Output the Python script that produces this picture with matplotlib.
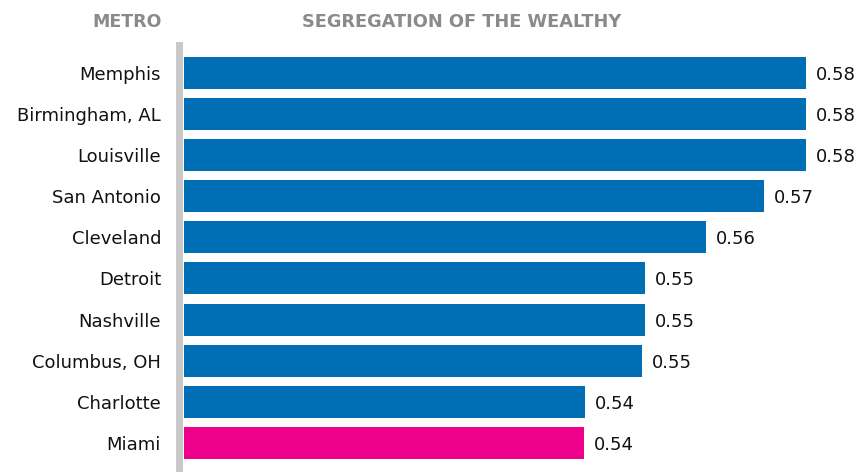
import matplotlib.pyplot as plt
import matplotlib.transforms as mtransforms

metros = ["Memphis", "Birmingham, AL", "Louisville", "San Antonio", "Cleveland",
          "Detroit", "Nashville", "Columbus, OH", "Charlotte", "Miami"]
values = [0.580, 0.580, 0.580, 0.5725, 0.562, 0.551, 0.551, 0.5505, 0.5403, 0.540]
labels = ["0.58", "0.58", "0.58", "0.57", "0.56", "0.55", "0.55", "0.55", "0.54", "0.54"]
highlight = "Miami"

plt.rcParams['font.family'] = ['DejaVu Sans']

W, H = 860, 472
fig = plt.figure(figsize=(W / 100, H / 100), dpi=100)
# axes in pixel coords: left 184, right 860, top 45, bottom 472
ax = fig.add_axes([184 / W, 0, 676 / W, (472 - 45) / H])

x0 = 0.468
colors = ["#ec008c" if m == highlight else "#006eb5" for m in metros]
ax.barh(range(len(metros)), [v - x0 for v in values], left=x0, height=0.78,
        color=colors)
ax.set_xlim(x0, x0 + 676 / 5550)
ax.set_ylim(9.71, -0.68)

ax.set_yticks(range(len(metros)))
ax.set_yticklabels(metros)
ax.tick_params(axis="y", length=0, pad=13, labelsize=13, labelcolor="#111111")
ax.set_xticks([])
for s in ["top", "right", "bottom"]:
    ax.spines[s].set_visible(False)
ax.spines["left"].set_color("#c8c8c8")
ax.spines["left"].set_linewidth(5)
ax.spines["left"].set_position(("outward", 3.5))

off = mtransforms.offset_copy(ax.transData, fig=fig, x=10, y=-2, units="dots")
for i, (v, lab) in enumerate(zip(values, labels)):
    ax.text(v, i, lab, transform=off, fontsize=13, color="#111111",
            ha="left", va="center")

fig.text(162 / W, 1 - 22 / H, "METRO", fontsize=12.5, fontweight="bold",
         color="#8a8a8a", ha="right", va="center")
fig.text(462 / W, 1 - 22 / H, "SEGREGATION OF THE WEALTHY", fontsize=12.8,
         fontweight="bold", color="#8a8a8a", ha="center", va="center")

fig.savefig("out.png", dpi=100)
